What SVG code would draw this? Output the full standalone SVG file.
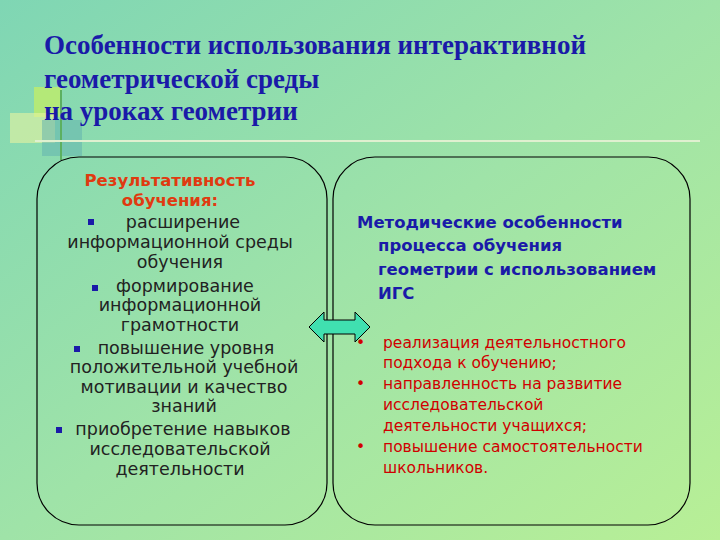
<svg xmlns="http://www.w3.org/2000/svg" width="720" height="540" viewBox="0 0 720 540">
<defs>
<linearGradient id="bg" x1="0" y1="0" x2="1" y2="1">
<stop offset="0" stop-color="#7fd6b4"/><stop offset="0.5" stop-color="#9fe3a8"/><stop offset="1" stop-color="#b8ef96"/>
</linearGradient>
<style>
.t{font-family:"Liberation Serif",serif;font-weight:bold;font-size:27px;fill:#1a1aa8}
.l{font-family:"DejaVu Sans",sans-serif;font-size:17.5px;fill:#222}
.lh{font-family:"DejaVu Sans",sans-serif;font-size:16.5px;font-weight:bold;fill:#e03a10}
.rh{font-family:"DejaVu Sans",sans-serif;font-size:16.5px;font-weight:bold;fill:#1a1aa8}
.r{font-family:"DejaVu Sans",sans-serif;font-size:15.5px;fill:#d00000}
.box{fill:none;stroke:#000;stroke-width:1.2}
.sq{fill:#1a1aa8}
</style>
</defs>
<rect width="720" height="540" fill="url(#bg)"/>
<g id="deco">
<rect x="34" y="87" width="28" height="30" fill="#c8f060" opacity="0.7"/>
<rect x="10" y="113" width="45" height="30" fill="#e8f4a0" opacity="0.6"/>
<rect x="42" y="120" width="40" height="36" fill="#60b0b0" opacity="0.5"/>
<rect x="60" y="90" width="2" height="70" fill="#5cb060"/>
<rect x="35" y="140" width="665" height="2" fill="#e0f0d0"/>
</g>
<g id="title">
<text class="t" x="44" y="54">Особенности использования интерактивной</text>
<text class="t" x="44" y="88">геометрической среды</text>
<text class="t" x="44" y="120">на уроках геометрии</text>
</g>
<g id="left">
<rect class="box" x="37" y="157" width="290" height="368" rx="42"/>
<text class="lh" x="170" y="186" text-anchor="middle">Результативность</text>
<text class="lh" x="170" y="206" text-anchor="middle">обучения:</text>
<rect class="sq" x="88" y="219" width="6" height="6"/>
<text class="l" x="183" y="228" text-anchor="middle">расширение</text>
<text class="l" x="180" y="248" text-anchor="middle">информационной среды</text>
<text class="l" x="180" y="268" text-anchor="middle">обучения</text>
<rect class="sq" x="92" y="285" width="6" height="6"/>
<text class="l" x="185" y="292" text-anchor="middle">формирование</text>
<text class="l" x="180" y="311" text-anchor="middle">информационной</text>
<text class="l" x="180" y="331" text-anchor="middle">грамотности</text>
<rect class="sq" x="74" y="346" width="6" height="6"/>
<text class="l" x="186" y="354" text-anchor="middle">повышение уровня</text>
<text class="l" x="184" y="373" text-anchor="middle">положительной учебной</text>
<text class="l" x="184" y="393" text-anchor="middle">мотивации и качество</text>
<text class="l" x="184" y="412" text-anchor="middle">знаний</text>
<rect class="sq" x="56" y="427" width="6" height="6"/>
<text class="l" x="183" y="435" text-anchor="middle">приобретение навыков</text>
<text class="l" x="180" y="455" text-anchor="middle">исследовательской</text>
<text class="l" x="180" y="475" text-anchor="middle">деятельности</text>
</g>
<g id="right">
<rect class="box" x="333" y="157" width="357" height="368" rx="42"/>
<text class="rh" x="357" y="228">Методические особенности</text>
<text class="rh" x="378" y="251">процесса обучения</text>
<text class="rh" x="378" y="275">геометрии с использованием</text>
<text class="rh" x="378" y="299">ИГС</text>
<text class="r" x="356" y="348">•</text>
<text class="r" x="383" y="348">реализация деятельностного</text>
<text class="r" x="383" y="368">подхода к обучению;</text>
<text class="r" x="356" y="389">•</text>
<text class="r" x="383" y="389">направленность на развитие</text>
<text class="r" x="383" y="410">исследовательской</text>
<text class="r" x="383" y="431">деятельности учащихся;</text>
<text class="r" x="356" y="452">•</text>
<text class="r" x="383" y="452">повышение самостоятельности</text>
<text class="r" x="383" y="473">школьников.</text>
</g>
<g id="connectors">
<path d="M309 327 L324 312 L324 320 L355 320 L355 312 L370 327 L355 342 L355 334 L324 334 L324 342 Z" fill="#40e0b0" stroke="#000" stroke-width="1"/>
</g>
</svg>
